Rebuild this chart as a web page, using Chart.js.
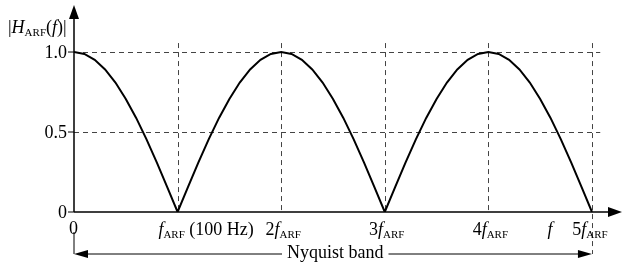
<!DOCTYPE html>
<html>
<head>
<meta charset="utf-8">
<script src="https://cdn.jsdelivr.net/npm/chart.js@4"></script>
<style>
  body { margin: 0; background: #fff; }
  canvas { display: block; }
</style>
</head>
<body>
<canvas id="chart" width="622" height="265"></canvas>
<script>
// frecuencia en múltiplos de f_ARF
const freq = [0,0.1,0.2,0.3,0.4,0.5,0.6,0.7,0.8,0.9,1,1.1,1.2,1.3,1.4,1.5,1.6,1.7,1.8,1.9,2,
  2.1,2.2,2.3,2.4,2.5,2.6,2.7,2.8,2.9,3,3.1,3.2,3.3,3.4,3.5,3.6,3.7,3.8,3.9,4,
  4.1,4.2,4.3,4.4,4.5,4.6,4.7,4.8,4.9,5];
// |H_ARF(f)|
const magnitude = [1,0.988,0.951,0.891,0.809,0.707,0.588,0.454,0.309,0.156,0,
  0.156,0.309,0.454,0.588,0.707,0.809,0.891,0.951,0.988,1,
  0.988,0.951,0.891,0.809,0.707,0.588,0.454,0.309,0.156,0,
  0.156,0.309,0.454,0.588,0.707,0.809,0.891,0.951,0.988,1,
  0.988,0.951,0.891,0.809,0.707,0.588,0.454,0.309,0.156,0];

const xGrid = [1, 2, 3, 4, 5];
const xTickPrefix = ["", "2", "3", "4", "5"];
const yGrid = [0.5, 1.0];
const yTicks = [0, 0.5, 1.0];
const yTickLabels = ["0", "0.5", "1.0"];

const SERIF = '"Liberation Serif", "DejaVu Serif", serif';

// dibuja texto con partes normales / cursivas / subíndice
function richText(ctx, parts, x, y) {
  let cx = x;
  parts.forEach(p => {
    const size = p.sub ? 11 : 18;
    ctx.font = (p.it ? "italic " : "") + size + "px " + SERIF;
    ctx.fillText(p.t, cx, p.sub ? y + 3 : y);
    cx += ctx.measureText(p.t).width;
  });
  return cx;
}
function richWidth(ctx, parts) {
  let w = 0;
  parts.forEach(p => {
    ctx.font = (p.it ? "italic " : "") + (p.sub ? 11 : 18) + "px " + SERIF;
    w += ctx.measureText(p.t).width;
  });
  return w;
}

const decoPlugin = {
  id: "deco",
  beforeDatasetsDraw(chart) {
    const ctx = chart.ctx;
    const xs = chart.scales.x, ys = chart.scales.y;
    ctx.save();
    ctx.strokeStyle = "#444";
    ctx.lineWidth = 1;
    ctx.setLineDash([5, 4]);
    yGrid.forEach(v => {
      const y = Math.round(ys.getPixelForValue(v)) + 0.5;
      ctx.beginPath();
      ctx.moveTo(xs.getPixelForValue(0), y);
      ctx.lineTo(xs.getPixelForValue(5.08), y);
      ctx.stroke();
    });
    xGrid.forEach(v => {
      const x = Math.round(xs.getPixelForValue(v)) + 0.5;
      const bottom = v === 5 ? 254 : ys.getPixelForValue(0);
      ctx.beginPath();
      ctx.moveTo(x, ys.getPixelForValue(1.056));
      ctx.lineTo(x, bottom);
      ctx.stroke();
    });
    ctx.restore();
  },
  afterDraw(chart) {
    const ctx = chart.ctx;
    const xs = chart.scales.x, ys = chart.scales.y;
    const x0 = xs.getPixelForValue(0), y0 = ys.getPixelForValue(0);
    const xEnd = chart.chartArea.right, yTop = chart.chartArea.top;
    ctx.save();
    ctx.strokeStyle = "#000";
    ctx.fillStyle = "#000";
    ctx.lineWidth = 1.5;
    // ejes
    ctx.beginPath();
    ctx.moveTo(x0, y0); ctx.lineTo(xEnd - 10, y0);
    ctx.moveTo(x0, y0); ctx.lineTo(x0, yTop + 10);
    ctx.stroke();
    ctx.beginPath();
    ctx.moveTo(xEnd, y0); ctx.lineTo(xEnd - 14, y0 - 5); ctx.lineTo(xEnd - 14, y0 + 5); ctx.closePath();
    ctx.fill();
    ctx.beginPath();
    ctx.moveTo(x0, yTop); ctx.lineTo(x0 - 5, yTop + 14); ctx.lineTo(x0 + 5, yTop + 14); ctx.closePath();
    ctx.fill();
    // marcas y etiquetas eje y
    ctx.lineWidth = 1;
    ctx.textBaseline = "alphabetic";
    ctx.font = "18px " + SERIF;
    ctx.textAlign = "right";
    yTicks.forEach((v, i) => {
      const y = ys.getPixelForValue(v);
      ctx.beginPath(); ctx.moveTo(x0 - 6, y); ctx.lineTo(x0, y); ctx.stroke();
      ctx.fillText(yTickLabels[i], x0 - 7, y + 6);
    });
    ctx.textAlign = "left";
    // etiqueta eje y
    richText(ctx, [{t: "|"}, {t: "H", it: true}, {t: "ARF", sub: true}, {t: "("}, {t: "f", it: true}, {t: ")|"}], 8, 33);
    // etiquetas eje x
    const base = 235;
    ctx.font = "18px " + SERIF;
    ctx.fillText("0", x0 - 5, base - 1);
    xGrid.forEach((v, i) => {
      const x = xs.getPixelForValue(v);
      const parts = [];
      if (xTickPrefix[i]) parts.push({t: xTickPrefix[i]});
      parts.push({t: "f", it: true}, {t: "ARF", sub: true});
      const w = richWidth(ctx, parts);
      const end = richText(ctx, parts, x - w / 2 - (v === 1 ? 8 : 0) + (v === 5 ? -2 : 2), base);
      if (v === 1) richText(ctx, [{t: " (100 Hz)"}], end, base);
    });
    ctx.font = "italic 18px " + SERIF;
    ctx.fillText("f", xs.getPixelForValue(4.57), base);
    // banda de Nyquist
    const xn = xs.getPixelForValue(5);
    const yn = 254;
    ctx.font = "18px " + SERIF;
    const label = "Nyquist band";
    const lw = ctx.measureText(label).width;
    const lx = 287;
    ctx.fillText(label, lx, 258);
    ctx.beginPath();
    ctx.moveTo(x0, 232); ctx.lineTo(x0, yn);
    ctx.moveTo(x0 + 8, yn); ctx.lineTo(lx - 5, yn);
    ctx.moveTo(lx + lw + 5, yn); ctx.lineTo(xn - 8, yn);
    ctx.stroke();
    ctx.beginPath();
    ctx.moveTo(x0, yn); ctx.lineTo(x0 + 14, yn - 4); ctx.lineTo(x0 + 14, yn + 4); ctx.closePath(); ctx.fill();
    ctx.beginPath();
    ctx.moveTo(xn, yn); ctx.lineTo(xn - 14, yn - 4); ctx.lineTo(xn - 14, yn + 4); ctx.closePath(); ctx.fill();
    ctx.restore();
  }
};

new Chart(document.getElementById("chart"), {
  type: "line",
  data: {
    datasets: [{
      data: freq.map((f, i) => ({x: f, y: magnitude[i]})),
      borderColor: "#000",
      borderWidth: 2,
      pointRadius: 0,
      tension: 0,
      fill: false
    }]
  },
  options: {
    responsive: false,
    animation: false,
    layout: { padding: { left: 74, right: 0, top: 5, bottom: 53 } },
    plugins: { legend: { display: false }, tooltip: { enabled: false } },
    scales: {
      x: { type: "linear", min: 0, max: 5.29, display: false },
      y: { min: 0, max: 1.294, display: false }
    }
  },
  plugins: [decoPlugin]
});
</script>
</body>
</html>
